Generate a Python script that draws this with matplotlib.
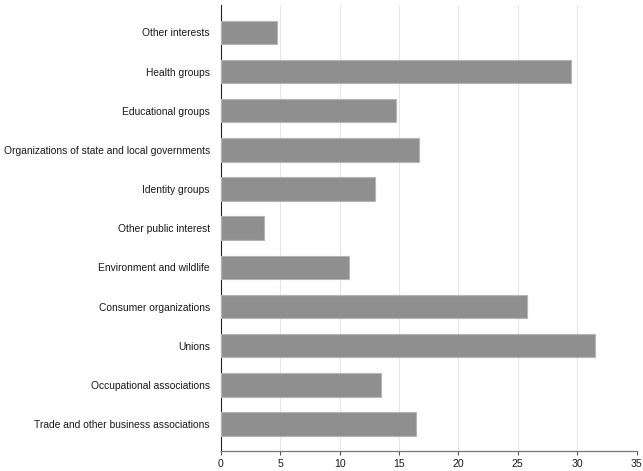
import matplotlib
matplotlib.use("Agg")
import matplotlib.pyplot as plt

categories = [
    "Trade and other business associations",
    "Occupational associations",
    "Unions",
    "Consumer organizations",
    "Environment and wildlife",
    "Other public interest",
    "Identity groups",
    "Organizations of state and local governments",
    "Educational groups",
    "Health groups",
    "Other interests",
]
values = [16.4, 13.5, 31.5, 25.8, 10.8, 3.6, 13.0, 16.7, 14.7, 29.5, 4.7]
xticks = [0, 5, 10, 15, 20, 25, 30, 35]

plt.rcParams['font.family'] = ['Liberation Sans', 'DejaVu Sans']

fig = plt.figure(figsize=(6.43, 4.71), dpi=100)
ax = fig.add_axes([0.3437, 0.0431, 0.9899 - 0.3437, 0.9894 - 0.0431])

ypos = list(range(len(categories)))
ax.barh(ypos, values, height=0.6, color='#8f8f8f', edgecolor='#b5b5b5',
        linewidth=0.8, zorder=3)

ax.set_xlim(0, 35)
ax.set_ylim(-0.68, len(categories) - 1 + 0.7)
ax.set_xticks(xticks)
ax.set_yticks(ypos)
ax.set_yticklabels(categories)
ax.tick_params(axis='y', length=0, pad=8, labelsize=7.4, labelcolor='#1a1a1a')
ax.tick_params(axis='x', length=3, width=0.8, color='#555555', pad=3,
               labelsize=7.6, labelcolor='#1a1a1a')

ax.grid(axis='x', color='#e6e6e6', linewidth=0.8, zorder=0)
ax.xaxis.get_gridlines()[-1].set_visible(False)
for side in ['top', 'right']:
    ax.spines[side].set_visible(False)
ax.spines['left'].set_color('#222222')
ax.spines['left'].set_linewidth(0.8)
ax.spines['bottom'].set_color('#777777')
ax.spines['bottom'].set_linewidth(0.9)

fig.savefig('out.png', dpi=100)
